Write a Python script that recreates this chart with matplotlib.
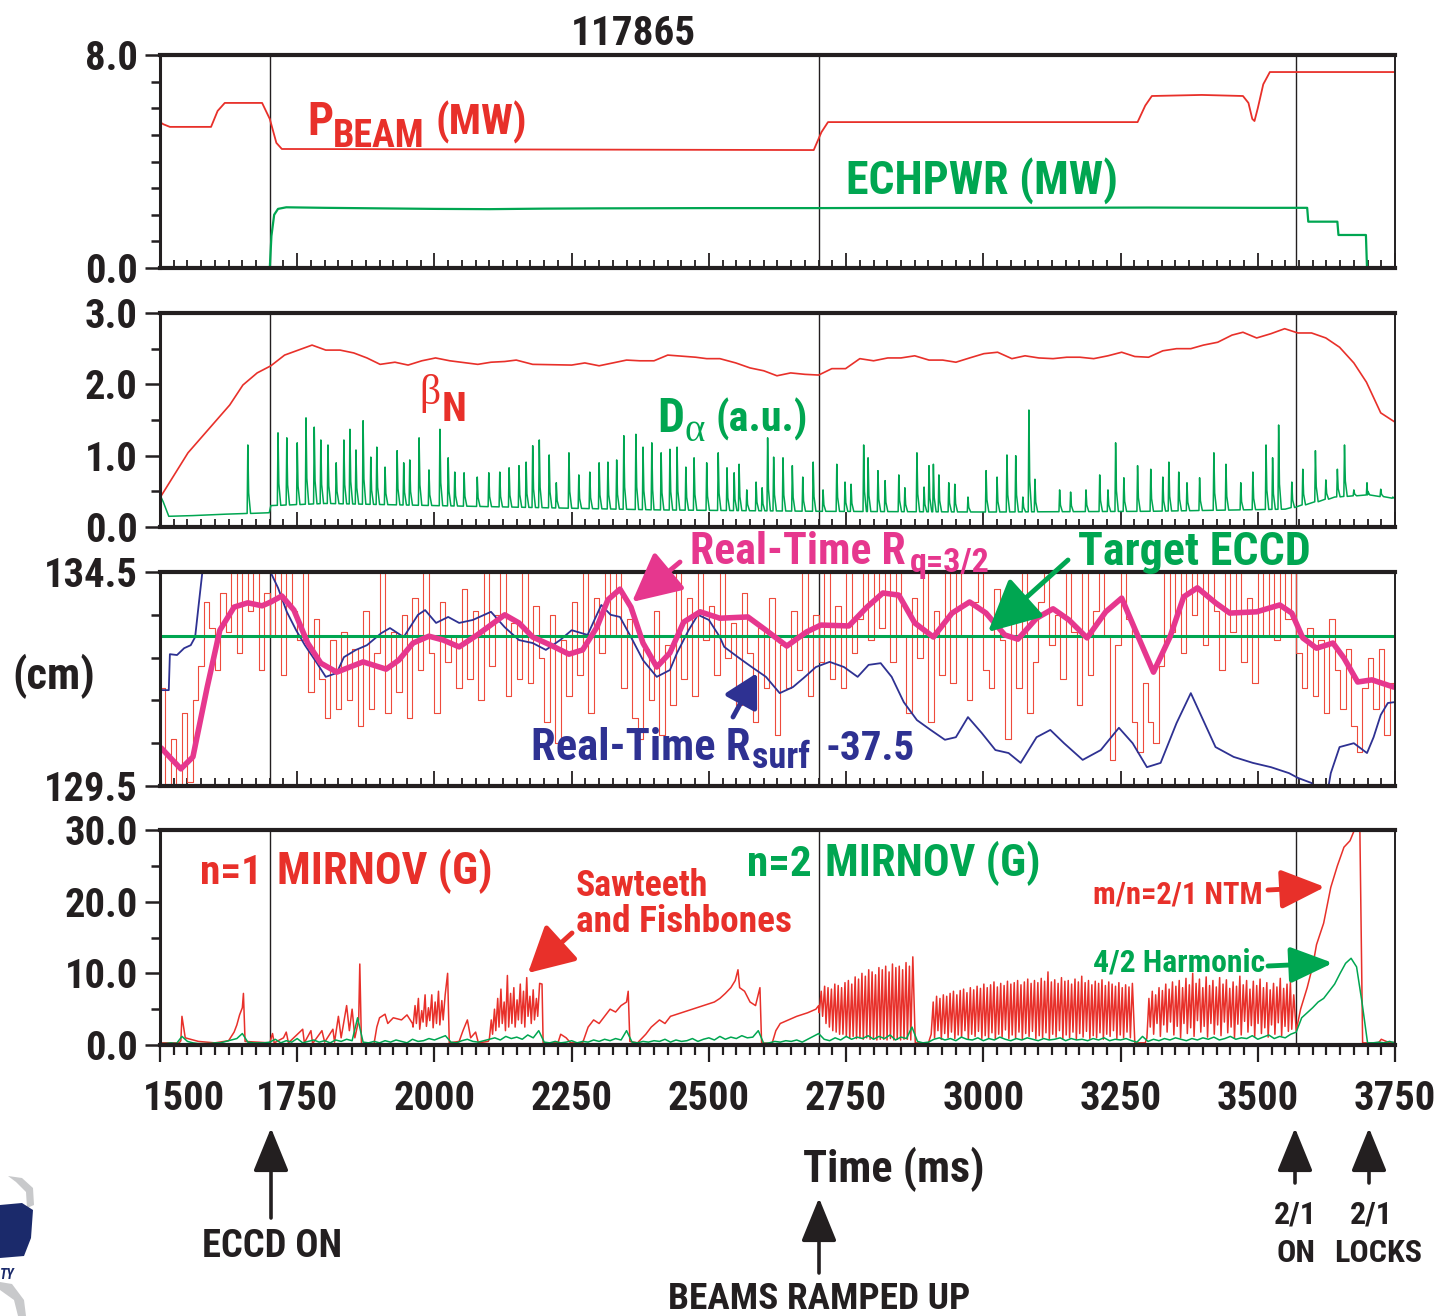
import numpy as np
import matplotlib
matplotlib.use("Agg")
import matplotlib.pyplot as plt
import matplotlib.font_manager as fm
from matplotlib.patches import FancyArrowPatch, Polygon
from matplotlib.ticker import MultipleLocator, FixedLocator

W, H = 1439, 1316
RED = '#E8302A'
GREEN = '#00A651'
BLUE = '#2E3192'
PINK = '#E6378E'
INK = '#231F20'

events = [1700, 2700, 3570]
time_ticks = [1500, 1750, 2000, 2250, 2500, 2750, 3000, 3250, 3500, 3750]

# ---------------- panel 1 : beam and EC power (MW)
pbeam_t = [1500, 1506, 1518, 1593, 1605, 1618, 1686, 1700, 1712, 1722, 2691, 2705, 2717,
           3281, 3295, 3307, 3398, 3473, 3483, 3490, 3494, 3500, 3510, 3522, 3750]
pbeam_v = [5.48, 5.40, 5.30, 5.30, 5.90, 6.20, 6.20, 5.60, 4.70, 4.47, 4.43, 5.10, 5.48,
           5.48, 6.10, 6.46, 6.50, 6.46, 6.20, 5.60, 5.52, 6.00, 6.90, 7.36, 7.36]
ech_t = [1500, 1700, 1703, 1708, 1715, 1730, 1800, 1900, 2000, 2100, 2200, 2300, 2500,
         2700, 2900, 3100, 3300, 3500, 3590, 3592, 3645, 3647, 3697, 3699, 3750]
ech_v = [0.0, 0.0, 1.2, 2.0, 2.22, 2.28, 2.26, 2.24, 2.22, 2.21, 2.23, 2.24, 2.25,
         2.25, 2.26, 2.26, 2.27, 2.26, 2.26, 1.74, 1.74, 1.24, 1.24, 0.0, 0.0]

# ---------------- panel 2 : beta_N and D-alpha
betan_t = [1500, 1551, 1627, 1651, 1677, 1702, 1727, 1752, 1777, 1802, 1828, 1853, 1877,
           1901, 1928, 1952, 1977, 2002, 2028, 2079, 2103, 2128, 2149, 2179, 2250, 2274,
           2300, 2325, 2350, 2374, 2400, 2425, 2476, 2496, 2520, 2549, 2575, 2600, 2624,
           2649, 2675, 2700, 2724, 2749, 2775, 2800, 2826, 2850, 2875, 2901, 2926, 2950,
           2975, 3001, 3026, 3052, 3076, 3101, 3127, 3152, 3176, 3201, 3227, 3252, 3276,
           3301, 3327, 3352, 3378, 3401, 3427, 3453, 3473, 3498, 3524, 3549, 3573, 3598,
           3624, 3649, 3675, 3698, 3724, 3750]
betan_v = [0.41, 1.04, 1.71, 1.99, 2.16, 2.26, 2.41, 2.48, 2.55, 2.48, 2.48, 2.44, 2.37,
           2.28, 2.31, 2.27, 2.33, 2.37, 2.33, 2.28, 2.31, 2.32, 2.34, 2.28, 2.27, 2.30,
           2.26, 2.30, 2.34, 2.33, 2.33, 2.41, 2.38, 2.36, 2.36, 2.30, 2.23, 2.19, 2.12,
           2.16, 2.14, 2.13, 2.22, 2.22, 2.36, 2.33, 2.37, 2.37, 2.40, 2.34, 2.34, 2.31,
           2.37, 2.43, 2.45, 2.36, 2.40, 2.37, 2.36, 2.38, 2.38, 2.36, 2.40, 2.45, 2.39,
           2.38, 2.47, 2.50, 2.50, 2.55, 2.59, 2.69, 2.73, 2.65, 2.71, 2.78, 2.72, 2.72,
           2.65, 2.52, 2.30, 2.03, 1.60, 1.47]
dal_base_t = [1500, 1506, 1516, 1560, 1620, 1699, 1702, 1800, 2000, 2200, 2400, 2700,
              3000, 3300, 3550, 3640, 3700, 3750]
dal_base_v = [0.45, 0.35, 0.15, 0.16, 0.18, 0.20, 0.30, 0.33, 0.30, 0.27, 0.24, 0.22,
              0.21, 0.22, 0.25, 0.42, 0.45, 0.40]
dal_spike_t = [1660, 1715, 1731, 1750, 1766, 1781, 1793, 1806, 1821, 1835, 1846, 1857,
               1870, 1884, 1895, 1910, 1932, 1944, 1955, 1972, 1990, 2010, 2025, 2037,
               2054, 2078, 2099, 2119, 2136, 2154, 2167, 2179, 2191, 2209, 2222, 2245,
               2263, 2283, 2300, 2316, 2332, 2345, 2367, 2380, 2396, 2413, 2429, 2442,
               2458, 2473, 2496, 2517, 2533, 2546, 2555, 2569, 2586, 2597, 2607, 2618,
               2635, 2652, 2671, 2690, 2708, 2733, 2748, 2759, 2782, 2790, 2808, 2821,
               2846, 2857, 2879, 2892, 2901, 2909, 2919, 2937, 2948, 2972, 3005, 3025,
               3043, 3059, 3072, 3083, 3094, 3139, 3159, 3187, 3212, 3227, 3241, 3256,
               3281, 3305, 3327, 3338, 3356, 3371, 3394, 3420, 3442, 3469, 3491, 3515,
               3527, 3538, 3562, 3582, 3605, 3624, 3645, 3658, 3675, 3699, 3724, 3746]
dal_spike_h = [1.15, 1.32, 1.25, 1.18, 1.53, 1.40, 1.22, 1.15, 0.90, 1.22, 1.37, 1.08,
               1.49, 0.98, 1.12, 0.84, 1.07, 0.90, 0.94, 1.25, 0.80, 1.37, 0.97, 0.77,
               0.76, 0.70, 0.76, 0.77, 0.83, 0.86, 0.91, 1.14, 1.22, 1.01, 0.62, 1.04,
               0.73, 0.77, 0.90, 0.91, 0.94, 1.28, 1.30, 1.12, 1.18, 1.04, 1.09, 1.12,
               0.84, 0.97, 0.90, 1.04, 0.83, 0.76, 0.88, 0.52, 0.63, 0.55, 1.25, 0.98,
               0.97, 0.86, 0.70, 0.91, 0.52, 0.88, 0.63, 0.60, 1.15, 0.97, 0.79, 0.65,
               0.73, 0.55, 1.04, 0.56, 0.86, 0.88, 0.73, 0.62, 0.60, 0.42, 0.79, 0.70,
               1.01, 1.00, 0.42, 1.64, 0.67, 0.52, 0.49, 0.52, 0.73, 0.52, 1.18, 0.69,
               0.86, 0.81, 0.70, 0.91, 0.77, 0.62, 0.69, 1.04, 0.88, 0.62, 0.77, 1.15,
               0.97, 1.43, 0.63, 0.81, 1.07, 0.66, 0.81, 1.15, 0.52, 0.62, 0.53, 0.42]

# ---------------- panel 3 : radii (cm)
target_eccd = 133.0
t10 = np.arange(1500, 3751, 10)
rq_raw = [131.8, 129.5, 130.6, 129.5, 131.2, 129.6, 131.5, 132.3, 133.8, 133.2,
          132.2, 134.0, 133.1, 134.5, 132.6, 134.5, 133.6, 134.5, 132.2, 134.0,
          133.0, 134.5, 132.1, 134.5, 133.6, 132.9, 134.5, 131.7, 133.4, 132.0,
          131.1, 132.9, 131.3, 133.1, 131.5, 132.7, 130.9, 133.6, 131.3, 132.6,
          134.5, 131.2, 133.1, 131.7, 133.5, 131.1, 133.9, 132.2, 134.5, 132.6,
          131.2, 133.8, 132.4, 133.0, 131.8, 134.1, 132.0, 133.6, 131.5, 134.5,
          132.3, 133.5, 134.5, 131.6, 133.3, 132.0, 134.5, 131.9, 133.7, 132.5,
          131.0, 133.5, 130.5, 132.9, 131.6, 133.8, 132.1, 134.5, 131.2, 133.9,
          132.6, 134.5, 133.0, 134.5, 131.8, 133.4, 131.1, 130.6, 132.7, 131.5,
          133.6, 130.7, 132.8, 131.4, 134.5, 132.0, 133.9, 131.6, 134.5, 132.9,
          133.7, 132.1, 134.5, 132.5, 133.3, 131.4, 134.0, 132.6, 131.0, 133.2,
          131.8, 133.9, 130.7, 132.8, 131.8, 133.6, 132.2, 134.5, 131.6, 133.5,
          132.4, 134.5, 132.0, 133.7, 131.8, 134.5, 132.6, 133.4, 134.5, 132.9,
          134.5, 133.2, 134.5, 132.4, 134.5, 133.0, 131.2, 133.9, 132.5, 134.5,
          131.0, 133.6, 132.1, 134.5, 131.9, 134.5, 133.0, 131.5, 133.8, 134.5,
          132.2, 131.8, 134.1, 132.9, 130.6, 133.5, 131.8, 134.5, 131.2, 132.4,
          133.8, 134.5, 132.8, 133.5, 132.0, 134.5, 133.1, 131.4, 134.5, 132.1,
          133.6, 134.5, 133.0, 130.1, 132.8, 134.5, 133.4, 131.0, 130.3, 131.9,
          131.0, 130.5, 132.3, 134.5, 133.1, 134.5, 132.6, 134.5, 133.5, 134.5,
          132.8, 134.5, 133.6, 132.2, 134.5, 133.1, 134.5, 132.4, 133.9, 131.9,
          134.5, 133.0, 134.5, 132.9, 134.5, 133.4, 134.5, 132.6, 131.8, 133.2,
          131.6, 132.9, 131.2, 133.4, 132.2, 131.3, 132.7, 130.9, 130.3, 131.8,
          132.5, 131.3, 132.7, 130.7, 131.9, 131.5]
rsurf_t = [1500, 1516, 1518, 1531, 1544, 1556, 1564, 1570, 1577, 1582, 1698, 1702, 1715,
           1731, 1748, 1764, 1786, 1802, 1822, 1835, 1857, 1877, 1903, 1919, 1944, 1970,
           1983, 2003, 2025, 2045, 2070, 2103, 2128, 2154, 2179, 2203, 2229, 2250, 2279,
           2304, 2321, 2338, 2358, 2380, 2405, 2429, 2442, 2463, 2480, 2500, 2520, 2528,
           2553, 2578, 2604, 2629, 2653, 2675, 2695, 2720, 2746, 2771, 2791, 2813, 2833,
           2855, 2879, 2904, 2930, 2950, 2972, 2997, 3022, 3046, 3068, 3097, 3122, 3147,
           3181, 3214, 3247, 3272, 3298, 3323, 3352, 3378, 3398, 3423, 3456, 3491, 3524,
           3557, 3573, 3598, 3605, 3625, 3633, 3649, 3675, 3699, 3711, 3724, 3737, 3750]
rsurf_v = [131.74, 131.74, 132.58, 132.56, 132.72, 132.79, 132.98, 133.68, 134.48, 135.5,
           135.5, 134.48, 134.13, 133.57, 133.14, 132.79, 132.37, 132.05, 132.14, 132.51,
           132.68, 132.79, 133.07, 133.19, 132.98, 133.50, 133.61, 133.31, 133.45, 133.31,
           133.38, 133.57, 133.21, 132.91, 132.84, 132.68, 132.91, 133.14, 133.03, 133.73,
           133.50, 133.45, 132.98, 132.44, 132.05, 132.21, 132.61, 133.14, 133.50, 133.38,
           132.98, 132.75, 132.51, 132.28, 132.05, 131.67, 131.81, 132.05, 132.28, 132.40,
           132.28, 132.05, 132.33, 132.37, 132.05, 131.46, 131.04, 130.81, 130.58, 130.64,
           131.11, 130.74, 130.34, 130.27, 130.04, 130.64, 130.81, 130.50, 130.11, 130.34,
           130.86, 130.50, 129.94, 130.04, 130.97, 131.67, 131.11, 130.41, 130.18, 130.04,
           129.94, 129.80, 129.69, 129.57, 129.2, 129.2, 129.80, 130.41, 130.50, 130.27,
           130.64, 131.16, 131.44, 131.46]
rq_t = [1502, 1538, 1560, 1586, 1609, 1635, 1660, 1686, 1702, 1722, 1744, 1769, 1793,
        1822, 1870, 1912, 1935, 1961, 1990, 2016, 2045, 2078, 2128, 2154, 2179, 2212,
        2245, 2270, 2296, 2316, 2338, 2358, 2380, 2405, 2429, 2454, 2484, 2520, 2571,
        2604, 2642, 2678, 2704, 2755, 2788, 2817, 2846, 2875, 2909, 2943, 2975, 3005,
        3039, 3063, 3097, 3127, 3156, 3189, 3223, 3252, 3277, 3310, 3340, 3365, 3390,
        3423, 3449, 3498, 3540, 3562, 3582, 3607, 3637, 3657, 3682, 3708, 3748]
rq_v = [130.39, 129.9, 130.18, 131.81, 133.14, 133.68, 133.78, 133.71, 133.80, 133.94,
        133.61, 132.84, 132.37, 132.16, 132.40, 132.23, 132.44, 132.84, 133.0, 132.91,
        132.75, 133.03, 133.50, 133.31, 132.98, 132.79, 132.58, 132.68, 133.21, 133.85,
        134.10, 133.68, 132.84, 132.28, 132.61, 133.33, 133.57, 133.42, 133.45, 133.14,
        132.77, 133.10, 133.26, 133.24, 133.68, 134.01, 133.96, 133.31, 132.98, 133.54,
        133.80, 133.54, 133.03, 132.93, 133.42, 133.64, 133.38, 132.96, 133.57, 133.89,
        133.14, 132.16, 132.98, 133.92, 134.13, 133.78, 133.54, 133.57, 133.73, 133.54,
        132.96, 132.72, 132.84, 132.49, 131.93, 131.98, 131.81]

# ---------------- panel 4 : Mirnov amplitudes (G)
n1_t = [1500, 1535, 1538, 1540, 1546, 1570, 1600, 1625, 1635, 1640, 1645, 1650, 1652,
        1655, 1700, 1705, 1708, 1725, 1730, 1734, 1760, 1763, 1775, 1778, 1795, 1800,
        1815, 1818, 1825, 1830, 1840, 1845, 1850, 1855, 1862, 1864, 1867, 1890, 1895,
        1900, 1910, 1915, 1925, 1940, 1950, 1960, 2024, 2027, 2045, 2052, 2060, 2066,
        2075, 2080, 2098, 2196, 2198, 2225, 2230, 2240, 2248, 2270, 2280, 2290, 2300,
        2310, 2320, 2330, 2340, 2350, 2353, 2356, 2370, 2385, 2395, 2410, 2420, 2430,
        2450, 2470, 2490, 2510, 2520, 2530, 2540, 2548, 2553, 2556, 2565, 2575, 2585,
        2593, 2596, 2615, 2622, 2630, 2645, 2660, 2680, 2695, 2700, 2876, 2900, 3276,
        3295, 3570, 3578, 3590, 3600, 3607, 3620, 3633, 3645, 3657, 3668, 3675, 3680,
        3686, 3691, 3700, 3720, 3725, 3740, 3750]
n1_v = [0.3, 0.3, 0.6, 4.0, 1.0, 0.5, 0.3, 0.6, 1.8, 2.8, 4.2, 5.2, 7.2,
        0.5, 0.3, 1.6, 0.3, 1.0, 1.8, 0.3, 2.2, 0.3, 2.0, 0.2, 2.0, 0.4,
        2.2, 0.4, 4.0, 1.0, 5.5, 2.0, 5.0, 1.0, 3.5, 11.3, 0.2, 0.2, 2.5,
        3.8, 4.3, 3.0, 3.8, 3.5, 4.2, 3.0, 10.0, 0.3, 0.5, 2.0, 3.5, 1.0,
        1.8, 0.3, 0.5, 8.5, 0.3, 0.3, 1.5, 1.0, 0.3, 0.3, 2.5, 3.5, 3.0,
        4.0, 5.0, 4.6, 5.5, 6.0, 7.5, 0.5, 0.3, 1.5, 2.5, 3.5, 3.0, 4.0,
        4.5, 5.0, 5.5, 6.0, 6.5, 7.2, 8.0, 9.0, 10.5, 8.0, 7.5, 6.0, 5.5,
        8.0, 0.3, 0.2, 2.0, 3.0, 3.5, 4.0, 4.5, 5.0, 5.5, 0.3, 0.3, 0.3,
        0.3, 2.0, 5.0, 8.0, 11.0, 14.0, 17.0, 22.0, 25.0, 27.6, 28.5, 29.8, 30.0,
        30.0, 0.3, 0.3, 0.3, 0.8, 0.3, 0.4]
burst_b_span = (1961, 2022)
burst_b_peaks = [5.5, 6.5, 4.8, 7.0, 5.2, 7.0, 6.0, 7.5, 6.2, 7.0]
burst_b_troughs = [2.5, 3.0, 2.2, 3.2, 2.6, 3.4, 2.4, 3.0, 2.8, 3.5]
burst_c_span = (2100, 2194)
burst_c_peaks = [3.5, 5.0, 6.5, 7.8, 6.0, 9.7, 7.2, 8.0, 6.3, 8.5, 7.5, 9.4, 6.8, 7.7, 6.5, 8.6]
burst_c_troughs = [0.8, 1.5, 2.0, 2.5, 3.0, 2.0, 2.5, 3.0, 2.5, 3.5, 3.0, 2.5, 4.0, 3.0, 3.5, 4.0]
burst_d_span = (2701, 2874)
burst_d_peaks = [7.5, 8.2, 8.0, 7.8, 8.5, 8.3, 8.0, 8.7, 9.0, 8.5, 9.5, 9.2, 10.0, 9.6,
                 10.5, 10.2, 9.8, 10.8, 10.5, 11.0, 10.2, 11.3, 10.8, 11.0, 10.5, 11.5, 11.0, 12.3]
burst_d_troughs = [4.5, 4.0, 3.0, 2.5, 2.0, 1.8, 1.5, 1.5, 1.2, 1.0, 1.2, 0.9, 1.0, 0.8,
                   1.0, 0.8, 0.9, 0.7, 0.8, 0.8, 0.7, 0.9, 0.7, 0.8, 0.7, 0.8, 0.8, 0.7]
burst_e_span = (2905, 3274)
burst_e_peaks = [6.0, 6.8, 6.5, 7.0, 6.8, 7.2, 7.5, 7.0, 7.6, 7.8, 7.3, 8.0, 7.7, 8.2, 7.9,
                 8.5, 8.0, 8.4, 8.8, 8.1, 8.6, 8.3, 8.9, 8.5, 8.7, 9.0, 8.4, 8.8, 9.2, 8.6,
                 9.0, 8.7, 9.3, 8.9, 10.2, 8.8, 9.1, 8.6, 9.4, 8.9, 9.0, 8.5, 9.2, 8.8, 9.6,
                 8.7, 9.0, 8.4, 8.9, 8.6, 9.1, 8.3, 8.8, 8.5, 8.2, 8.7, 8.0, 8.4, 8.1, 8.6]
burst_e_troughs = [1.5, 1.0, 2.0, 0.8, 1.6, 1.0, 1.8, 0.9, 1.4, 1.1, 2.0, 0.8, 1.5, 1.2, 1.9,
                   0.9, 1.3, 1.0, 1.7, 0.8, 1.5, 1.1, 2.1, 0.9, 1.4, 1.0, 1.8, 0.8, 1.6, 1.2,
                   1.9, 0.9, 1.3, 1.0, 1.7, 0.8, 1.5, 1.1, 2.0, 0.9, 1.4, 1.0, 1.8, 0.8, 1.6,
                   1.1, 1.9, 0.9, 1.3, 1.0, 1.7, 0.8, 1.5, 1.2, 2.0, 0.9, 1.4, 1.0, 1.8, 1.0]
burst_f_span = (3298, 3568)
burst_f_peaks = [6.5, 7.5, 7.0, 8.0, 7.6, 8.5, 7.8, 8.8, 8.2, 9.0, 8.0, 9.3, 8.4, 10.0, 8.6,
                 9.2, 8.0, 9.5, 8.3, 9.0, 8.1, 9.4, 8.5, 9.1, 7.9, 8.8, 8.2, 9.6, 8.4, 9.0,
                 7.8, 8.9, 8.3, 9.2, 8.0, 8.7, 7.7, 8.6, 8.1, 9.3, 7.9, 8.5, 8.8, 7.0]
burst_f_troughs = [1.0, 2.5, 1.5, 3.0, 1.2, 2.8, 1.8, 3.2, 1.4, 2.6, 1.0, 3.0, 1.6, 2.4, 1.2,
                   3.4, 1.8, 2.6, 1.1, 3.0, 1.5, 2.8, 1.3, 3.2, 1.7, 2.5, 1.0, 2.9, 1.4, 3.3,
                   1.8, 2.7, 1.2, 3.0, 1.6, 2.4, 1.1, 2.8, 1.5, 3.1, 1.3, 2.6, 1.9, 2.2]
n2_raw = [0.2, 0.2, 0.3, 0.2, 1.2, 0.5, 0.3, 0.2, 0.2, 0.2,
          0.3, 0.3, 0.5, 0.7, 0.9, 1.6, 0.4, 0.3, 0.3, 0.3,
          0.4, 0.8, 0.3, 0.6, 0.4, 0.9, 0.3, 0.5, 0.7, 0.4,
          0.6, 0.3, 0.7, 0.5, 0.8, 0.6, 3.8, 0.4, 0.3, 0.5,
          0.3, 0.6, 0.4, 0.7, 0.5, 0.3, 0.8, 0.5, 0.6, 0.9,
          0.7, 1.0, 1.3, 0.4, 0.3, 0.6, 0.8, 0.5, 0.4, 0.6,
          0.8, 1.0, 0.7, 1.2, 0.9, 1.1, 0.8, 1.4, 1.0, 2.0,
          0.4, 0.3, 0.5, 0.3, 0.4, 0.6, 0.3, 0.5, 0.4, 0.7,
          0.5, 0.8, 0.6, 0.9, 0.7, 2.0, 0.4, 0.3, 0.5, 0.4,
          0.6, 0.5, 0.8, 0.4, 0.7, 0.5, 0.6, 0.9, 0.5, 0.8,
          1.0, 0.7, 1.2, 0.8, 1.1, 0.9, 1.3, 1.0, 1.1, 2.0,
          0.2, 0.3, 0.5, 0.4, 0.6, 0.5, 0.7, 0.4, 0.8, 1.2,
          1.6, 0.8, 0.6, 1.0, 0.7, 1.2, 0.8, 1.1, 0.9, 1.3,
          0.8, 1.2, 0.9, 1.4, 0.7, 1.1, 0.9, 2.5, 0.5, 0.3,
          0.4, 0.8, 1.0, 0.7, 0.9, 0.6, 1.1, 0.8, 0.7, 1.0,
          0.6, 0.9, 0.7, 1.1, 0.8, 0.6, 0.9, 0.7, 1.0, 0.8,
          0.6, 0.9, 0.7, 0.8, 1.0, 0.6, 0.9, 0.7, 0.8, 0.6,
          0.9, 0.7, 1.0, 0.6, 0.8, 0.7, 0.9, 0.6, 0.4, 1.2,
          0.5, 0.8, 0.6, 0.9, 0.7, 1.0, 0.8, 0.6, 0.9, 0.7,
          1.0, 0.8, 1.1, 0.7, 0.9, 1.2, 0.8, 1.0, 0.9, 1.3,
          0.8, 1.1, 1.4, 0.9, 1.2, 1.0, 1.5, 1.8, 3.8, 4.5,
          5.2, 6.0, 6.5, 7.5, 8.5, 10.0, 11.4, 12.1, 10.9, 5.9,
          0.3, 0.3, 0.4, 0.3, 0.5, 0.3]

# a narrow bold sans close to the condensed Helvetica of the original
bold_faces = {f.name for f in fm.fontManager.ttflist if isinstance(f.weight, int) and f.weight >= 600
              or f.weight in ('bold', 'heavy', 'extra bold', 'black', 'semibold', 'demibold')}
prefer = ['Liberation Sans Narrow', 'Roboto Condensed', 'Archivo Narrow', 'PT Sans Narrow',
          'IBM Plex Sans Condensed', 'Fira Sans Condensed', 'Liberation Sans']
FONT = next((f for f in prefer if f in bold_faces), 'DejaVu Sans')
plt.rcParams['font.family'] = [FONT, 'DejaVu Sans']
plt.rcParams['font.weight'] = 'bold'

fig = plt.figure(figsize=(W / 100, H / 100), dpi=100)
renderer = fig.canvas.get_renderer()


def fit(s, width, **kw):
    # font size giving the string the pixel width it has in the original
    probe = fig.text(0, 0, s, fontsize=20, fontweight='bold', **kw)
    w = probe.get_window_extent(renderer).width
    probe.remove()
    return 20.0 * width / w


def label(x, y, s, width, color=INK, ha='left', size=None, **kw):
    kw.setdefault('fontweight', 'bold')
    fs = size if size is not None else fit(s, width, **{k: v for k, v in kw.items() if k == 'family'})
    fig.text(x / W, 1 - y / H, s, fontsize=fs, color=color, ha=ha, va='baseline', **kw)


def arrow(x0, y0, x1, y1, color, lw=3.0, hl=1.3, hw=0.6, ms=20):
    fig.add_artist(FancyArrowPatch((x0 / W, 1 - y0 / H), (x1 / W, 1 - y1 / H),
                                   transform=fig.transFigure, color=color, lw=lw,
                                   arrowstyle=f'-|>,head_length={hl},head_width={hw}',
                                   mutation_scale=ms, shrinkA=0, shrinkB=0))


def burst(span, peaks, troughs):
    edges = np.linspace(span[0], span[1], len(peaks) + 1)
    step = edges[1] - edges[0]
    ts, vs = [], []
    for e, p, q in zip(edges[:-1], peaks, troughs):
        ts += [e, e + 0.6 * step]
        vs += [q, p]
    return ts, vs


XT_FS = fit('1500', 82)
YT_FS = fit('30.0', 73)

L, R = 160, 1395
panel_px = [(55, 268), (313, 527), (572, 786), (830, 1045)]
axes = [fig.add_axes([L / W, 1 - b / H, (R - L) / W, (b - t) / H]) for t, b in panel_px]
ax1, ax2, ax3, ax4 = axes

ax1.plot(pbeam_t, pbeam_v, color=RED, lw=1.3)
ax1.plot(ech_t, ech_v, color=GREEN, lw=1.6)
ax1.set_ylim(0, 8)
ax1.yaxis.set_major_locator(FixedLocator([0, 8]))
ax1.yaxis.set_minor_locator(FixedLocator(range(1, 8)))

ax2.plot(betan_t, betan_v, color=RED, lw=1.2)
dt, dv = list(dal_base_t), list(dal_base_v)
for t, h in zip(dal_spike_t, dal_spike_h):
    b = np.interp(t, dal_base_t, dal_base_v)
    dt += [t - 1.2, t, t + 1.5, t + 5.0]
    dv += [b, h, b + 0.3 * (h - b), b]
order = np.argsort(dt, kind='stable')
ax2.plot(np.array(dt)[order], np.array(dv)[order], color=GREEN, lw=1.1)
ax2.set_ylim(0, 3)
ax2.yaxis.set_major_locator(FixedLocator([0, 1, 2, 3]))
ax2.yaxis.set_minor_locator(FixedLocator([0.5, 1.5, 2.5]))

ax3.plot(t10, rq_raw, color='#EE4B3C', lw=0.8, drawstyle='steps-post')
ax3.plot(rsurf_t, rsurf_v, color=BLUE, lw=1.3)
ax3.axhline(target_eccd, color=GREEN, lw=2.2)
ax3.plot(rq_t, rq_v, color=PINK, lw=4.0, solid_joinstyle='round', solid_capstyle='round')
ax3.set_ylim(129.5, 134.5)
ax3.yaxis.set_major_locator(FixedLocator([129.5, 134.5]))
ax3.yaxis.set_minor_locator(FixedLocator([130.5, 131.5, 132.5, 133.5]))

mt, mv = list(n1_t), list(n1_v)
for span, pk, tr in [(burst_b_span, burst_b_peaks, burst_b_troughs),
                     (burst_c_span, burst_c_peaks, burst_c_troughs),
                     (burst_d_span, burst_d_peaks, burst_d_troughs),
                     (burst_e_span, burst_e_peaks, burst_e_troughs),
                     (burst_f_span, burst_f_peaks, burst_f_troughs)]:
    bt, bv = burst(span, pk, tr)
    mt += bt
    mv += bv
order = np.argsort(mt, kind='stable')
ax4.plot(np.array(mt)[order], np.array(mv)[order], color=RED, lw=1.1)
ax4.plot(t10, n2_raw, color=GREEN, lw=1.1)
ax4.set_ylim(0, 30)
ax4.yaxis.set_major_locator(FixedLocator([0, 10, 20, 30]))
ax4.yaxis.set_minor_locator(FixedLocator([5, 15, 25]))

for i, ax in enumerate(axes):
    ax.set_xlim(1500, 3750)
    ax.xaxis.set_major_locator(FixedLocator(time_ticks))
    ax.xaxis.set_minor_locator(MultipleLocator(25))
    ax.yaxis.set_major_formatter('{x:.1f}')
    for t in events:
        ax.axvline(t, color=INK, lw=1.0, zorder=0.5)
    for side, lw in [('top', 3.0), ('bottom', 3.0), ('left', 2.2), ('right', 1.4)]:
        ax.spines[side].set_linewidth(lw)
        ax.spines[side].set_color(INK)
    ax.tick_params(axis='y', which='both', direction='out', left=True, right=False,
                   width=1.8, color=INK, labelsize=YT_FS, labelcolor=INK, pad=5)
    ax.tick_params(axis='y', which='major', length=11)
    ax.tick_params(axis='y', which='minor', length=6.5)
    if i < 3:
        ax.tick_params(axis='x', which='both', direction='in', top=False,
                       labelbottom=False, width=1.3, color=INK)
        ax.tick_params(axis='x', which='major', length=11)
        ax.tick_params(axis='x', which='minor', length=6)
    else:
        ax.tick_params(axis='x', which='both', direction='out', top=False,
                       width=1.6, color=INK, labelsize=XT_FS, labelcolor=INK, pad=13)
        ax.tick_params(axis='x', which='major', length=12)
        ax.tick_params(axis='x', which='minor', length=7)
# the first time label sits to the right of its tick in the original
ax4.set_xticklabels([''] + [str(v) for v in time_ticks[1:]])
label(184, 1110, str(time_ticks[0]), 0, ha='center', size=XT_FS)

label(633, 45, '117865', 125, ha='center')
label(307, 135, 'P', 26, RED)
label(333, 147, 'BEAM', 92, RED)
label(436, 135, '(MW)', 92, RED)
label(846, 194, 'ECHPWR (MW)', 272, GREEN)
label(419, 404, '\u03b2', 0, RED, size=30, family='Liberation Serif', fontweight='normal')
label(442, 421, 'N', 25, RED)
label(657, 432, 'D', 27, GREEN)
label(684, 441, '\u03b1', 0, GREEN, size=28, family='Liberation Serif', fontweight='normal')
label(715, 432, '(a.u.)', 93, GREEN)
label(690, 564, 'Real-Time R', 215, PINK)
label(910, 572, 'q=3/2', 80, PINK)
label(1078, 565, 'Target ECCD', 232, GREEN)
label(531, 760, 'Real-Time R', 219, BLUE)
label(752, 768, 'surf', 58, BLUE)
label(826, 760, '-37.5', 89, BLUE)
fig.text(12 / W, 1 - 676 / H, '(cm)', fontsize=fit('(cm)', 83), color=INK, ha='left',
         va='center', fontweight='bold')
label(200, 884, 'n=1', 62, RED)
label(277, 884, 'MIRNOV (G)', 216, RED)
label(747, 876, 'n=2', 65, GREEN)
label(825, 876, 'MIRNOV (G)', 216, GREEN)
label(576, 896, 'Sawteeth', 132, RED)
label(576, 932, 'and Fishbones', 216, RED)
label(1093, 904, 'm/n=2/1 NTM', 170, RED)
label(1093, 971, '4/2 Harmonic', 172, GREEN)
label(803, 1182, 'Time (ms)', 181)
label(272, 1257, 'ECCD ON', 140, ha='center')
label(819, 1309, 'BEAMS RAMPED UP', 302, ha='center')
label(1295, 1224, '2/1', 0, ha='center', size=23)
label(1296, 1262, 'ON', 0, ha='center', size=23)
label(1371, 1224, '2/1', 0, ha='center', size=23)
label(1378, 1262, 'LOCKS', 0, ha='center', size=23)

arrow(680, 562, 632, 602, PINK, lw=3.5, hl=1.5, hw=0.75)
arrow(1068, 560, 988, 632, GREEN, lw=3.5, hl=1.6, hw=0.8)
arrow(733, 717, 757, 673, BLUE, lw=3.5, hl=1.0, hw=0.55)
arrow(572, 933, 528, 973, RED, lw=3.5, hl=1.4, hw=0.75)
arrow(1268, 890, 1325, 887, RED, lw=3.5, hl=1.35, hw=0.6)
arrow(1268, 966, 1333, 963, GREEN, lw=3.5, hl=1.3, hw=0.55)
for x, y0, y1 in [(271, 1218, 1128), (819, 1273, 1198), (1295, 1183, 1128), (1369, 1183, 1128)]:
    arrow(x, y0, x, y1, INK, lw=2.6, hl=1.35, hw=0.55)


def px_poly(pts, **kw):
    fig.add_artist(Polygon([(x / W, 1 - y / H) for x, y in pts], closed=True,
                           transform=fig.transFigure, **kw))


px_poly([(8, 1176), (22, 1178), (33, 1188), (34, 1205), (27, 1208), (26, 1192), (16, 1182)],
        color='#C8C9CB', lw=0)
px_poly([(0, 1205), (22, 1203), (33, 1210), (31, 1238), (24, 1256), (0, 1258)],
        color='#1B2A6B', lw=0)
px_poly([(0, 1282), (12, 1284), (24, 1300), (26, 1316), (18, 1316), (14, 1300), (0, 1290)],
        color='#C8C9CB', lw=0)
fig.text(0, 1 - 1279 / H, 'TY', fontsize=10, color='#1B2A6B', style='italic',
         fontweight='bold', va='baseline')

fig.savefig('out.png', dpi=100)
